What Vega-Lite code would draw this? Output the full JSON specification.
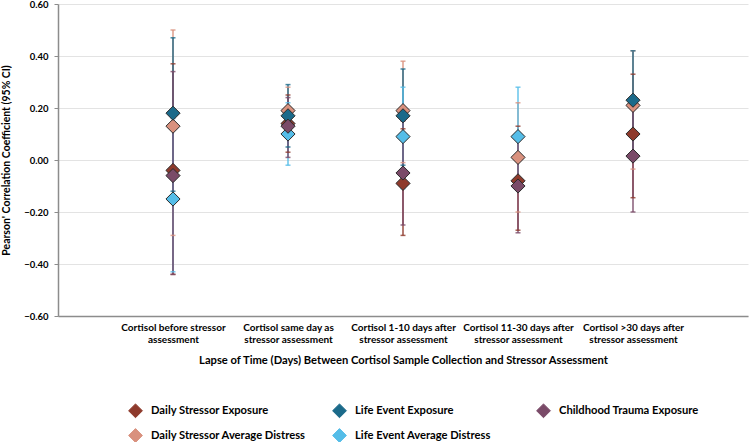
{
  "$schema": "https://vega.github.io/schema/vega-lite/v6.json",
  "width": 690,
  "height": 312,
  "autosize": "none",
  "padding": {"left": 58, "top": 4, "right": 1, "bottom": 126},
  "background": "white",
  "config": {
    "view": {"stroke": null},
    "font": "Lato",
    "axis": {"labelFont": "Lato", "titleFont": "Lato", "labelFontWeight": "bold", "titleFontWeight": "bold", "labelColor": "#000", "titleColor": "#000"}
  },
  "data": {
    "values": [
      {"cat": "Cortisol before stressor assessment", "series": "Daily Stressor Exposure", "r": -0.04, "lo": -0.44, "hi": 0.37},
      {"cat": "Cortisol before stressor assessment", "series": "Daily Stressor Average Distress", "r": 0.13, "lo": -0.29, "hi": 0.50},
      {"cat": "Cortisol before stressor assessment", "series": "Life Event Exposure", "r": 0.18, "lo": -0.12, "hi": 0.47},
      {"cat": "Cortisol before stressor assessment", "series": "Life Event Average Distress", "r": -0.15, "lo": -0.43, "hi": 0.16},
      {"cat": "Cortisol before stressor assessment", "series": "Childhood Trauma Exposure", "r": -0.06, "lo": -0.44, "hi": 0.34},
      {"cat": "Cortisol same day as stressor assessment", "series": "Daily Stressor Exposure", "r": 0.14, "lo": 0.03, "hi": 0.25},
      {"cat": "Cortisol same day as stressor assessment", "series": "Daily Stressor Average Distress", "r": 0.19, "lo": 0.09, "hi": 0.28},
      {"cat": "Cortisol same day as stressor assessment", "series": "Life Event Exposure", "r": 0.17, "lo": 0.05, "hi": 0.29},
      {"cat": "Cortisol same day as stressor assessment", "series": "Life Event Average Distress", "r": 0.10, "lo": -0.02, "hi": 0.22},
      {"cat": "Cortisol same day as stressor assessment", "series": "Childhood Trauma Exposure", "r": 0.13, "lo": 0.01, "hi": 0.24},
      {"cat": "Cortisol 1-10 days after stressor assessment", "series": "Daily Stressor Exposure", "r": -0.09, "lo": -0.29, "hi": 0.12},
      {"cat": "Cortisol 1-10 days after stressor assessment", "series": "Daily Stressor Average Distress", "r": 0.19, "lo": -0.01, "hi": 0.38},
      {"cat": "Cortisol 1-10 days after stressor assessment", "series": "Life Event Exposure", "r": 0.17, "lo": -0.02, "hi": 0.35},
      {"cat": "Cortisol 1-10 days after stressor assessment", "series": "Life Event Average Distress", "r": 0.09, "lo": -0.11, "hi": 0.28},
      {"cat": "Cortisol 1-10 days after stressor assessment", "series": "Childhood Trauma Exposure", "r": -0.05, "lo": -0.25, "hi": 0.15},
      {"cat": "Cortisol 11-30 days after stressor assessment", "series": "Daily Stressor Exposure", "r": -0.08, "lo": -0.27, "hi": 0.13},
      {"cat": "Cortisol 11-30 days after stressor assessment", "series": "Daily Stressor Average Distress", "r": 0.01, "lo": -0.20, "hi": 0.22},
      {"cat": "Cortisol 11-30 days after stressor assessment", "series": "Life Event Average Distress", "r": 0.09, "lo": -0.10, "hi": 0.28},
      {"cat": "Cortisol 11-30 days after stressor assessment", "series": "Childhood Trauma Exposure", "r": -0.10, "lo": -0.28, "hi": 0.10},
      {"cat": "Cortisol >30 days after stressor assessment", "series": "Daily Stressor Exposure", "r": 0.10, "lo": -0.145, "hi": 0.33},
      {"cat": "Cortisol >30 days after stressor assessment", "series": "Daily Stressor Average Distress", "r": 0.21, "lo": -0.035, "hi": 0.42},
      {"cat": "Cortisol >30 days after stressor assessment", "series": "Life Event Exposure", "r": 0.23, "lo": 0.01, "hi": 0.42},
      {"cat": "Cortisol >30 days after stressor assessment", "series": "Childhood Trauma Exposure", "r": 0.015, "lo": -0.20, "hi": 0.22}
    ]
  },
  "encoding": {
    "x": {
      "field": "cat",
      "type": "nominal",
      "sort": null,
      "scale": {"type": "point", "padding": 1},
      "axis": {
        "title": "Lapse of Time (Days) Between Cortisol Sample Collection and Stressor Assessment",
        "titleFontSize": 11.2,
        "titlePadding": 10,
        "labelAngle": 0,
        "labelFontSize": 10,
        "labelPadding": 6,
        "labelExpr": "indexof(datum.label, 'before') >= 0 ? ['Cortisol before stressor', 'assessment'] : [replace(datum.label, ' stressor assessment', ''), 'stressor assessment']",
        "ticks": false,
        "domainColor": "#8c8c8c",
        "domainWidth": 1.5,
        "grid": false
      }
    },
    "color": {
      "field": "series",
      "type": "nominal",
      "scale": {
        "domain": ["Daily Stressor Exposure", "Life Event Exposure", "Childhood Trauma Exposure", "Daily Stressor Average Distress", "Life Event Average Distress"],
        "range": ["#8e3a2c", "#1b6a8a", "#7a4a68", "#d9917e", "#55bde8"]
      },
      "legend": {
        "title": null,
        "orient": "none",
        "legendX": 70,
        "legendY": 399,
        "columns": 3,
        "gridAlign": "all",
        "direction": "horizontal",
        "symbolType": "diamond",
        "symbolSize": 190,
        "symbolStrokeColor": "#2b2b2b",
        "symbolStrokeWidth": 1,
        "symbolOpacity": 1,
        "labelFont": "Lato",
        "labelFontWeight": "bold",
        "labelFontSize": 11.2,
        "labelColor": "#000",
        "labelOffset": 8,
        "labelLimit": 300,
        "columnPadding": 24,
        "rowPadding": 6
      }
    }
  },
  "layer": [
    {
      "mark": {"type": "point", "shape": "diamond", "filled": true, "size": 0, "opacity": 0},
      "encoding": {"y": {"field": "r", "type": "quantitative"}}
    },
    {
      "mark": {"type": "rule", "strokeWidth": 1.8, "opacity": 0.75},
      "encoding": {
        "y": {"field": "lo", "type": "quantitative"},
        "y2": {"field": "hi"}
      }
    },
    {
      "mark": {"type": "tick", "size": 5, "thickness": 1.5, "opacity": 0.8},
      "encoding": {"y": {"field": "lo", "type": "quantitative"}}
    },
    {
      "mark": {"type": "tick", "size": 5, "thickness": 1.5, "opacity": 0.8},
      "encoding": {"y": {"field": "hi", "type": "quantitative"}}
    },
    {
      "mark": {"type": "rule", "color": "#000", "strokeWidth": 2},
      "encoding": {"y": {"datum": 0}, "color": {"value": "#000"}}
    },
    {
      "mark": {"type": "point", "shape": "diamond", "filled": true, "size": 200, "stroke": "#2b2b2b", "strokeWidth": 1, "opacity": 1},
      "encoding": {
        "y": {
          "field": "r",
          "type": "quantitative",
          "scale": {"domain": [-0.6, 0.6], "nice": false, "zero": false},
          "axis": {
            "title": "Pearson' Correlation Coefficient (95% CI)",
            "titleFontSize": 10.5,
            "titlePadding": 12,
            "values": [-0.6, -0.4, -0.2, 0, 0.2, 0.4, 0.6],
            "format": ".2f",
            "labelFontSize": 9.5,
            "labelPadding": 6,
            "tickSize": 4,
            "tickColor": "#8c8c8c",
            "domainColor": "#8c8c8c",
            "domainWidth": 1.5,
            "gridColor": "#e3e3e3",
            "gridWidth": 1.2
          }
        }
      }
    }
  ]
}
